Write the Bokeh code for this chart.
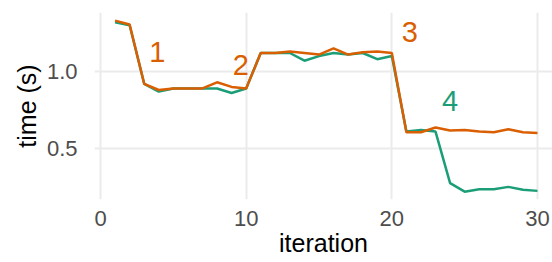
from bokeh.plotting import figure
from bokeh.models import Range1d, FixedTicker, NumeralTickFormatter
from bokeh.core.properties import value
from bokeh.embed import file_html
from bokeh.resources import INLINE

iteration = list(range(1, 31))
time_a = [1.32, 1.30, 0.92, 0.87, 0.89, 0.89, 0.89, 0.89, 0.86, 0.89,
          1.12, 1.12, 1.12, 1.07, 1.10, 1.12, 1.11, 1.12, 1.08, 1.10,
          0.61, 0.62, 0.61, 0.275, 0.22, 0.235, 0.236, 0.251, 0.232, 0.225]
time_b = [1.33, 1.305, 0.92, 0.88, 0.89, 0.89, 0.89, 0.93, 0.90, 0.89,
          1.12, 1.12, 1.13, 1.12, 1.11, 1.15, 1.11, 1.125, 1.13, 1.12,
          0.606, 0.606, 0.636, 0.617, 0.62, 0.61, 0.605, 0.625, 0.606, 0.60]

labels_b = ["1", "2", "3"]
labels_b_x = [3.9, 9.64, 21.24]
labels_b_y = [1.124, 1.04, 1.254]
labels_a = ["4"]
labels_a_x = [24.0]
labels_a_y = [0.806]

x_ticks = [0, 10, 20, 30]
y_ticks = [0.5, 1.0]

GREEN = "#1b9e77"
ORANGE = "#d95f02"
FONT = "Liberation Sans"

p = figure(width=552, height=262, output_backend="svg", toolbar_location=None,
           x_range=Range1d(-0.412, 31.03), y_range=Range1d(0.169, 1.383),
           min_border_left=94, min_border_right=0, min_border_top=12,
           min_border_bottom=63)
p.outline_line_color = None
p.background_fill_color = "white"
p.border_fill_color = "white"

p.line(iteration, time_a, line_color=GREEN, line_width=2.5)
p.line(iteration, time_b, line_color=ORANGE, line_width=2.5)

p.text(x=labels_b_x, y=labels_b_y, text=labels_b, text_color=ORANGE,
       text_font=value(FONT), text_font_size="29px", text_align="center",
       text_baseline="alphabetic")
p.text(x=labels_a_x, y=labels_a_y, text=labels_a, text_color=GREEN,
       text_font=value(FONT), text_font_size="29px", text_align="center",
       text_baseline="alphabetic")

p.xaxis.ticker = FixedTicker(ticks=x_ticks)
p.yaxis.ticker = FixedTicker(ticks=y_ticks)
p.yaxis.formatter = NumeralTickFormatter(format="0.0")
p.xaxis.minor_tick_line_color = None
p.yaxis.minor_tick_line_color = None
for ax in (p.xaxis[0], p.yaxis[0]):
    ax.axis_line_color = None
    ax.major_tick_line_color = None
    ax.major_tick_out = 0
    ax.major_tick_in = 0
    ax.major_label_text_font = FONT
    ax.major_label_text_font_size = "22px"
    ax.major_label_text_color = "#4d4d4d"
    ax.axis_label_text_font = FONT
    ax.axis_label_text_font_size = "25px"
    ax.axis_label_text_font_style = "normal"
    ax.axis_label_text_color = "black"

p.xaxis.axis_label = "iteration"
p.yaxis.axis_label = "time (s)"
p.xaxis.major_label_standoff = 11
p.xaxis.axis_label_standoff = 0
p.yaxis.major_label_standoff = 17
p.yaxis.axis_label_standoff = 3

p.xgrid.ticker = FixedTicker(ticks=x_ticks)
p.ygrid.ticker = FixedTicker(ticks=y_ticks)
p.grid.grid_line_color = "#ebebeb"
p.grid.grid_line_width = 2
p.xgrid.minor_grid_line_color = None
p.ygrid.minor_grid_line_color = None

open("out.html", "w").write(file_html(p, INLINE))
